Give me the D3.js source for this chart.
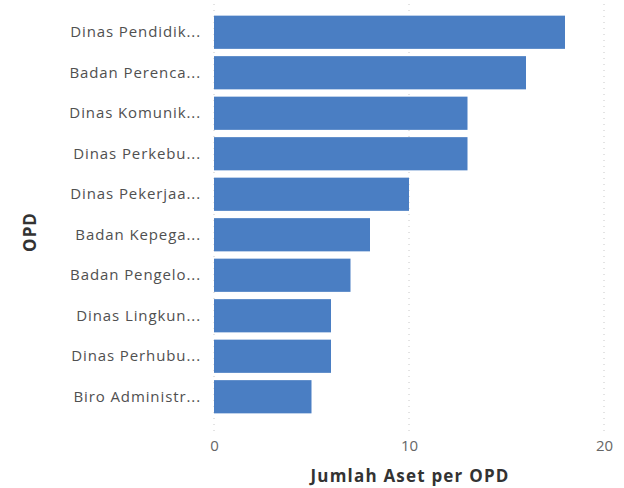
<!DOCTYPE html>
<html>
<head>
<meta charset="utf-8">
<script src="https://cdn.jsdelivr.net/npm/d3@7"></script>
<style>
  body { margin: 0; background: #fff; }
  svg { display: block; font-family: "Open Sans", sans-serif; }
</style>
</head>
<body>
<div id="chart"></div>
<script>
// data
const opdNames = [
  "Dinas Pendidik...",
  "Badan Perenca...",
  "Dinas Komunik...",
  "Dinas Perkebu...",
  "Dinas Pekerjaa...",
  "Badan Kepega...",
  "Badan Pengelo...",
  "Dinas Lingkun...",
  "Dinas Perhubu...",
  "Biro Administr..."
];
const jumlahAset = [18, 16, 13, 13, 10, 8, 7, 6, 6, 5];
const xTicks = [0, 10, 20];

const data = opdNames.map((d, i) => ({name: d, value: jumlahAset[i]}));

// config
const width = 624, height = 488;
const margin = {top: 12, left: 214};
const innerW = 604 - margin.left;

const svg = d3.select("#chart")
  .append("svg")
    .attr("width", width)
    .attr("height", height);

const g = svg.append("g")
    .attr("transform", "translate(" + margin.left + "," + margin.top + ")");

const x = d3.scaleLinear().domain([0, 20]).range([0, innerW]);
const y = d3.scaleBand()
  .domain(opdNames)
  .range([0, 405])
  .paddingInner(0.18)
  .paddingOuter(0.09);

// dotted grid lines
g.append("g")
  .selectAll("line")
  .data(xTicks)
  .join("line")
    .attr("x1", d => x(d))
    .attr("x2", d => x(d))
    .attr("y1", -8)
    .attr("y2", 420)
    .style("stroke", "#c8c8c8")
    .style("stroke-width", 1)
    .style("stroke-dasharray", "1,5");

// bars
g.append("g")
  .selectAll("rect")
  .data(data)
  .join("rect")
    .attr("x", x(0))
    .attr("y", d => y(d.name))
    .attr("width", d => x(d.value) - x(0))
    .attr("height", y.bandwidth())
    .style("fill", "#4a7ec3");

// y axis labels
const yAxis = g.append("g")
  .call(d3.axisLeft(y).tickSize(0).tickPadding(13));
yAxis.select(".domain").remove();
yAxis.selectAll("text")
  .style("font-family", "'Open Sans', sans-serif")
  .style("font-size", "15px")
  .style("letter-spacing", "0.9px")
  .style("fill", "#505050");

// x axis labels
const xAxis = g.append("g")
  .attr("transform", "translate(0," + 420 + ")")
  .call(d3.axisBottom(x).tickValues(xTicks).tickSize(0).tickPadding(8));
xAxis.select(".domain").remove();
xAxis.selectAll("text")
  .style("font-family", "'Open Sans', sans-serif")
  .style("font-size", "15px")
  .style("fill", "#666");

// axis titles
svg.append("text")
  .attr("x", 410)
  .attr("y", 482)
  .attr("text-anchor", "middle")
  .style("font-size", "17px")
  .style("font-weight", "bold")
  .style("letter-spacing", "1.2px")
  .style("fill", "#333")
  .text("Jumlah Aset per OPD");

svg.append("text")
  .attr("transform", "translate(36," + 232 + ") rotate(-90)")
  .attr("text-anchor", "middle")
  .style("font-size", "17px")
  .style("font-weight", "bold")
  .style("letter-spacing", "1px")
  .style("fill", "#333")
  .text("OPD");
</script>
</body>
</html>
